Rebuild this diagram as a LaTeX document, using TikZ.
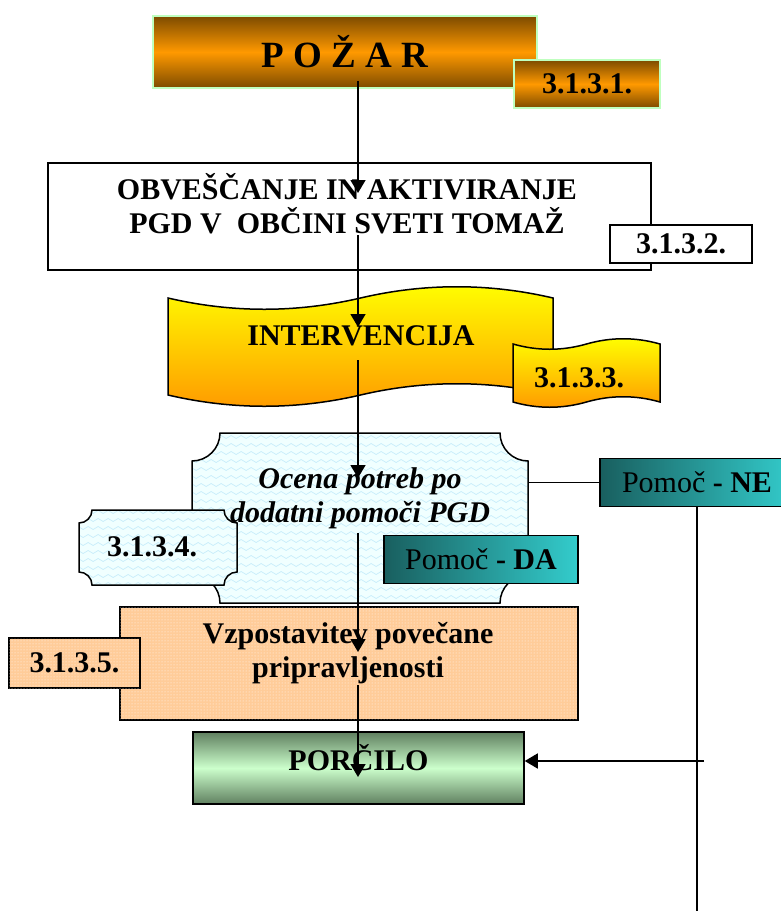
\documentclass[tikz,border=0pt]{standalone}
\usepackage{fontspec}
\setmainfont{Liberation Serif}
\usetikzlibrary{arrows.meta,shadings,patterns,decorations.pathmorphing}

\definecolor{pzbrown}{RGB}{125,75,0}
\definecolor{pzorange}{RGB}{255,153,0}
\definecolor{pcgreen}{RGB}{204,255,204}
\definecolor{pcdark}{RGB}{96,128,96}
\definecolor{tealdark}{RGB}{25,95,95}
\definecolor{teallight}{RGB}{51,204,204}
\definecolor{peach}{RGB}{255,204,153}
\definecolor{icefill}{RGB}{240,255,255}

% wavy banner: x1,y1 (top left), x2,y2 (bottom right), amplitude
\newcommand{\tapepath}[5]{(#1,#2)
  .. controls ({#1+(#3-#1)/6},{#2+#5}) and ({#1+(#3-#1)/3},{#2+#5}) .. ({(#1+#3)/2},#2)
  .. controls ({#3-(#3-#1)/3},{#2-#5}) and ({#3-(#3-#1)/6},{#2-#5}) .. (#3,#2)
  -- (#3,#4)
  .. controls ({#3-(#3-#1)/6},{#4-#5}) and ({#3-(#3-#1)/3},{#4-#5}) .. ({(#1+#3)/2},#4)
  .. controls ({#1+(#3-#1)/3},{#4+#5}) and ({#1+(#3-#1)/6},{#4+#5}) .. (#1,#4) -- cycle}
% plaque with hollow corners: x1,y1,x2,y2,corner radius
\newcommand{\plaquepath}[5]{({#1+#5},#2) -- ({#3-#5},#2)
  .. controls ({#3-#5},{#2+0.55*#5}) and ({#3-0.55*#5},{#2+#5}) .. (#3,{#2+#5})
  -- (#3,{#4-#5})
  .. controls ({#3-0.55*#5},{#4-#5}) and ({#3-#5},{#4-0.55*#5}) .. ({#3-#5},#4)
  -- ({#1+#5},#4)
  .. controls ({#1+#5},{#4-0.55*#5}) and ({#1+0.55*#5},{#4-#5}) .. (#1,{#4-#5})
  -- (#1,{#2+#5})
  .. controls ({#1+0.55*#5},{#2+#5}) and ({#1+#5},{#2+0.55*#5}) .. ({#1+#5},#2) -- cycle}

\begin{document}
\begin{tikzpicture}[x=1pt,y=-1pt,>={Triangle[length=13pt,width=15pt]},line width=1.5pt,
    txt/.style={font=\bfseries\fontsize{30}{34}\selectfont,align=center},
    box/.style={draw,inner sep=0pt,txt},
    fire/.style={box,draw=green!25,top color=pzbrown,bottom color=pzbrown,middle color=pzorange},
    help/.style={box,font=\fontsize{30}{34}\selectfont,left color=tealdark,right color=teallight,
      minimum width=194pt,minimum height=48pt},
    wave/.style={draw=cyan!22,line width=.7pt,decorate,
      decoration={snake,amplitude=1.5pt,segment length=10pt}}]
  \useasboundingbox (0,0) rectangle (781,911);

  % fire
  \node (pozar) [fire,minimum width=384pt,minimum height=72pt,
    font=\bfseries\fontsize{37}{40}\selectfont] at (345,52) {P O Ž A R};
  \node (l1) [fire,minimum width=146pt,minimum height=48pt] at (587,84) {3.1.3.1.};

  % alarm
  \node (obv) [box,fill=white,minimum width=603pt,minimum height=107pt] at (349.5,216.5) {};
  \node (obvtxt) [txt] at (347,204) {OBVEŠČANJE IN AKTIVIRANJE\\PGD V~ OBČINI SVETI TOMAŽ};
  \node (l2) [box,fill=white,minimum width=142pt,minimum height=38pt] at (681,244) {3.1.3.2.};

  % intervention
  \draw[top color=yellow,bottom color=pzorange] \tapepath{168}{298}{553}{395}{15};
  \node (interv) [txt] at (361,336) {INTERVENCIJA};
  \draw[top color=yellow,bottom color=pzorange] \tapepath{513}{344}{660}{402}{7};
  \node (l3) [txt] at (579,378) {3.1.3.3.};

  % assessment
  \fill[icefill] \plaquepath{192}{433}{528}{603}{28};
  \begin{scope}
    \clip \plaquepath{192}{433}{528}{603}{28};
    \foreach \yy in {437,445,...,605} \draw[wave] (188,\yy) -- (532,\yy);
  \end{scope}
  \draw \plaquepath{192}{433}{528}{603}{28};
  \fill[icefill] \plaquepath{79}{510}{237}{585}{13};
  \begin{scope}
    \clip \plaquepath{79}{510}{237}{585}{13};
    \foreach \yy in {512,520,...,588} \draw[wave] (75,\yy) -- (240,\yy);
  \end{scope}
  \draw \plaquepath{79}{510}{237}{585}{13};
  \node (l4) [txt] at (152,547) {3.1.3.4.};
  \node (ocena) [txt,font=\bfseries\itshape\fontsize{30}{34}\selectfont] at (360,498)
    {Ocena potreb po\\dodatni pomoči PGD};
  \node (da) [help] at (481,559.5) {Pomoč \textbf{- DA}};
  \node (ne) [help] at (697,482.5) {Pomoč \textbf{- NE}};

  % readiness
  \node (vzp) [box,fill=peach,postaction={pattern=dots,pattern color=white!90!peach},
    minimum width=458pt,minimum height=113pt] at (349,663.5) {};
  \node (vzptxt) [txt] at (348,653) {Vzpostavitev povečane\\pripravljenosti};
  \node (l5) [box,fill=peach,postaction={pattern=dots,pattern color=white!90!peach},
    minimum width=131pt,minimum height=50pt] at (74.5,663) {3.1.3.5.};

  % report
  \node (porc) [box,top color=pcdark,bottom color=pcdark,middle color=pcgreen,
    minimum width=331pt,minimum height=72pt] at (358.5,768) {};
  \node (porctxt) [txt] at (358.5,758) {PORČILO};

  % no help branch
  \coordinate (oce) at (528,482.5);
  \coordinate (nebot) at (697,915);
  \coordinate (r1) at (704,761);
  \draw (oce) -- (ne.west);
  \draw (ne.south) -- (nebot);
  \draw[->] (r1) -- (r1 -| porc.east);

  % main line
  \foreach \n/\yy in {0/81,1/193,2/235,3/327,4/360,5/478,6/533,7/652,8/685,9/777}
    \coordinate (s\n) at (358,\yy);
  \foreach \a/\b in {0/1,2/3,4/5,6/7,8/9}
    \draw[->] (s\a) -- (s\b);
\end{tikzpicture}
\end{document}
